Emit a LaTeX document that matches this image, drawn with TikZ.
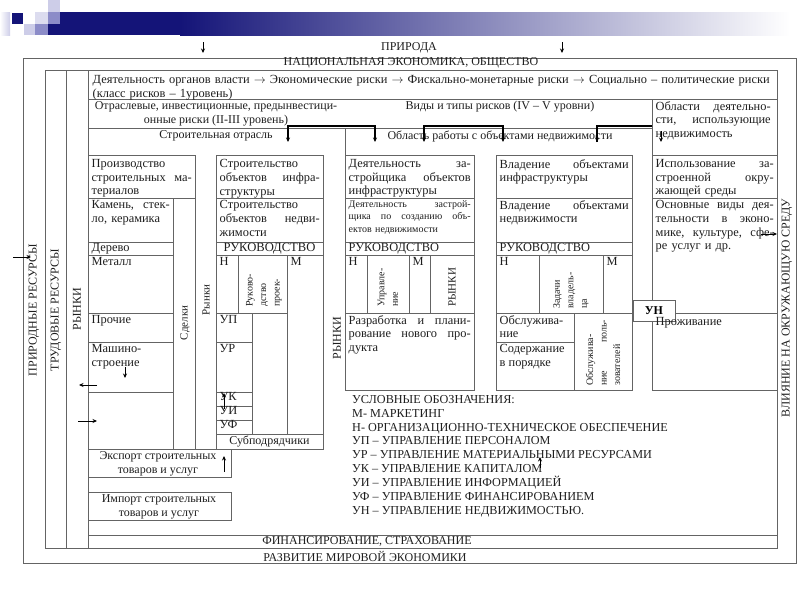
\documentclass[tikz,border=0pt]{standalone}
\usepackage{fontspec}
\setmainfont{Liberation Serif}
\usetikzlibrary{arrows.meta,positioning}
\definecolor{hdnavy}{RGB}{20,20,120}
\definecolor{hdlav}{RGB}{205,205,232}
\definecolor{hdmid}{RGB}{140,140,200}
\definecolor{linegray}{RGB}{100,100,100}
\definecolor{inkgray}{RGB}{30,30,30}
\setlength{\parindent}{0pt}
\tolerance=10000
\hyphenpenalty=10000
\newcommand{\jl}[1]{{\spaceskip=0.25em plus 2em minus 0.05em\relax
  \makebox[\hsize][s]{#1}}}
\tikzset{
  tline/.style={draw=linegray, line width=0.9pt},
  txt/.style={anchor=north west, inner xsep=3.5pt, inner ysep=2pt, align=left,
    font=\fontsize{12.4}{13.8}\selectfont, text=inkgray},
  smalltxt/.style={txt, font=\fontsize{10}{12.5}\selectfont},
  ctxt/.style={inner sep=0pt, font=\fontsize{12}{13.8}\selectfont, text=inkgray},
  vtxt/.style={rotate=90, anchor=west, inner sep=0pt, align=left,
    font=\fontsize{10}{13.5}\selectfont, text=inkgray},
  unbox/.style={draw=linegray, line width=0.9pt, fill=white, inner sep=0pt,
    minimum width=42pt, minimum height=21pt,
    font=\bfseries\fontsize{12}{14}\selectfont},
  arr/.style={-{Stealth[length=4.5pt,width=4pt]}, line width=0.8pt, draw=black},
  brk/.style={{Stealth[length=4.5pt,width=4pt]}-{Stealth[length=4.5pt,width=4pt]},
    line width=1.3pt, draw=black}
}

\begin{document}
\begin{tikzpicture}[x=1pt,y=-1pt]
\useasboundingbox (0,0) rectangle (800,600);

%% slide header
\shade[left color=white, right color=hdlav] (0,12) rectangle (10,35);
\fill[hdnavy] (12,13) rectangle (23,24);
\fill[hdlav] (24,24) rectangle (35,35);
\fill[hdlav!70!white] (35,12) rectangle (48,24);
\fill[hdmid] (35,24) rectangle (48,35);
\fill[hdlav] (48,0) rectangle (60,12);
\fill[hdnavy] (48,12) rectangle (180,35);
\fill[hdmid] (48,12) rectangle (60,24);
\shade[left color=hdnavy, right color=white] (180,12) rectangle (790,35);

%% frames
\draw[tline] (23,58) rectangle (796,563);
\draw[tline] (45,70) rectangle (777,548);
\draw[tline] (66,70) -- (66,548) (88,70) -- (88,548);
\draw[tline] (88,99) -- (777,99) (88,128) -- (652,128);
\draw[tline] (652,99) -- (652,155) (345,128) -- (345,155);
\draw[tline] (88,535) -- (777,535);

%% building materials
\draw[tline] (88,155) rectangle (195,198);
\draw[tline] (173,198) -- (173,449) (195,198) -- (195,449);
\foreach \y in {242,255,313,342,392}
  \draw[tline] (88,\y) -- (173,\y);
\draw[tline] (88,449) -- (323,449);

%% construction
\draw[tline] (216,155) rectangle (323,449);
\foreach \y in {198,242,255,434}
  \draw[tline] (216,\y) -- (323,\y);
\draw[tline] (216,313) -- (287,313);
\draw[tline] (238,255) -- (238,313) (287,255) -- (287,434) (252,313) -- (252,434);
\foreach \y in {342,392,406,420}
  \draw[tline] (216,\y) -- (252,\y);

%% developer
\draw[tline] (345,155) rectangle (474,390);
\foreach \y in {198,242,255,313}
  \draw[tline] (345,\y) -- (474,\y);
\foreach \x in {367,409,430}
  \draw[tline] (\x,255) -- (\x,313);

%% ownership
\draw[tline] (496,155) rectangle (632,390);
\foreach \y in {198,242,255,313}
  \draw[tline] (496,\y) -- (632,\y);
\draw[tline] (539,255) -- (539,313) (603,255) -- (603,313);
\draw[tline] (574,313) -- (574,390) (496,342) -- (574,342);

%% usage
\draw[tline] (652,155) rectangle (777,390);
\draw[tline] (652,198) -- (777,198) (652,313) -- (777,313);

%% export / import
\draw[tline] (88,449) rectangle (231,477) (88,492) rectangle (231,520);

%% outer texts
\node[ctxt] (nature)  at (409,48) {ПРИРОДА};
\node[ctxt] (economy) at (411,63) {НАЦИОНАЛЬНАЯ ЭКОНОМИКА, ОБЩЕСТВО};
\node[ctxt] (finance) at (367,541) {ФИНАНСИРОВАНИЕ, СТРАХОВАНИЕ};
\node[ctxt] (world)   at (365,556) {РАЗВИТИЕ МИРОВОЙ ЭКОНОМИКИ};
\node[ctxt, rotate=90] (natres) at (34,310) {ПРИРОДНЫЕ РЕСУРСЫ};
\node[ctxt, rotate=90] (labres) at (56,310) {ТРУДОВЫЕ РЕСУРСЫ};
\node[ctxt, rotate=90] (mkt0)   at (77,309) {РЫНКИ};
\node[ctxt, rotate=90] (impact) at (787,308) {ВЛИЯНИЕ НА ОКРУЖАЮЩУЮ СРЕДУ};

%% risk levels
\node[txt, text width=677pt] (lvl1) at (89,73)
  {\jl{Деятельность органов власти $\rightarrow$ Экономические риски $\rightarrow$ Фискально-монетарные риски $\rightarrow$ Социально – политические риски}\\(класс рисков – 1уровень)};
\node[ctxt, align=center] (lvl23) at (216,114)
  {Отраслевые, инвестиционные, предынвестици-\\онные риски (II-III уровень)};
\node[ctxt] (lvl45) at (500,107) {Виды и типы рисков (IV – V уровни)};
\node[txt, text width=115pt] (areas) at (652,99)
  {\jl{Области деятельно-}\\\jl{сти, использующие}\\недвижимость};
\node[ctxt] (constr) at (216,136) {Строительная отрасль};
\node[ctxt] (realty) at (500,136) {Область работы с объектами недвижимости};

%% building materials texts
\node[txt, text width=100pt] (prod) at (88,157)
  {Производство\\\jl{строительных ма-}\\териалов};
\node[txt, text width=78pt] (stone) at (88,198) {\jl{Камень, стек-}\\ло, керамика};
\node[txt, inner ysep=1pt] (wood) at (88,242) {Дерево};
\node[txt] (metal) at (88,255) {Металл};
\node[txt] (other) at (88,313) {Прочие};
\node[txt] (mach)  at (88,342) {Машино-\\строение};
\node[ctxt, rotate=90, font=\fontsize{11}{13}\selectfont] (deals) at (185,323) {Сделки};
\node[ctxt, rotate=90, font=\fontsize{11}{13}\selectfont] (mkt1)  at (206,300) {Рынки};

%% construction texts
\node[txt, text width=100pt] (infra) at (216,157)
  {Строительство\\\jl{объектов инфра-}\\структуры};
\node[txt, text width=100pt] (build) at (216,198)
  {Строительство\\\jl{объектов недви-}\\жимости};
\node[ctxt, font=\fontsize{12.6}{14}\selectfont] (mgmt1) at (269.5,248.5) {РУКОВОДСТВО};
\node[txt] (n1) at (216,255) {Н};
\node[vtxt] (projm) at (264,307) {Руково-\\дство\\проек-};
\node[txt] (m1) at (287,255) {М};
\node[txt] (up) at (216,313) {УП};
\node[txt] (ur) at (216,342) {УР};
\node[txt, inner ysep=0.5pt] (uk) at (216,392) {УК};
\node[txt, inner ysep=0.5pt] (ui) at (216,406) {УИ};
\node[txt, inner ysep=0.5pt] (uf) at (216,420) {УФ};
\node[ctxt] (subc) at (269.5,441.5) {Субподрядчики};

%% developer texts
\node[txt, text width=122pt] (devinf) at (345,157)
  {\jl{Деятельность за-}\\\jl{стройщика объектов}\\инфраструктуры};
\node[smalltxt, text width=122pt] (devrl) at (345,198)
  {\jl{Деятельность застрой-}\\\jl{щика по созданию объ-}\\ектов недвижимости};
\node[txt, inner ysep=1pt] (mgmt2) at (345,242) {РУКОВОДСТВО};
\node[txt] (n2) at (345,255) {Н};
\node[vtxt] (mng) at (388,307) {Управле-\\ние};
\node[txt] (m2) at (409,255) {М};
\node[vtxt, font=\fontsize{11}{13}\selectfont] (mkt3) at (452,307) {РЫНКИ};
\node[txt, text width=122pt] (newprod) at (345,313)
  {\jl{Разработка и плани-}\\\jl{рование нового про-}\\дукта};
\node[ctxt, rotate=90] (mkt2) at (337,338) {РЫНКИ};

%% ownership texts
\node[txt, text width=129pt] (owninf) at (496,157) {\jl{Владение объектами}\\инфраструктуры};
\node[txt, text width=129pt] (ownrl)  at (496,198) {\jl{Владение объектами}\\недвижимости};
\node[txt, inner ysep=1pt] (mgmt3) at (496,242) {РУКОВОДСТВО};
\node[txt] (n3) at (496,255) {Н};
\node[vtxt] (owner) at (571,309) {Задачи\\владель-\\ца};
\node[txt] (m3) at (603,255) {М};
\node[txt] (serv)   at (496,313) {Обслужива-\\ние};
\node[txt] (upkeep) at (496,342) {Содержание\\в порядке};
\node[vtxt, text width=66pt] (userv) at (603,386) {Обслужива-\\\jl{ние поль-}\\зователей};

%% usage texts
\node[txt, text width=118pt] (use) at (652,157)
  {\jl{Использование за-}\\\jl{строенной окру-}\\жающей среды};
\node[txt, text width=118pt] (kinds) at (652,198)
  {\jl{Основные виды дея-}\\\jl{тельности в эконо-}\\\jl{мике, культуре, сфе-}\\ре услуг и др.};
\node[unbox] (un) at (654,310.5) {УН};
\node[txt] (live) at (652,315) {Проживание};

%% export / import texts
\node[ctxt, align=center] (exp) at (158,464) {Экспорт строительных\\товаров и услуг};
\node[ctxt, align=center] (imp) at (159,507) {Импорт строительных\\товаров и услуг};

%% legend
\node[txt, inner sep=0pt, font=\fontsize{12.2}{13.9}\selectfont] (legend) at (352,395)
  {УСЛОВНЫЕ ОБОЗНАЧЕНИЯ:\\
   М- МАРКЕТИНГ\\
   Н- ОРГАНИЗАЦИОННО-ТЕХНИЧЕСКОЕ ОБЕСПЕЧЕНИЕ\\
   УП – УПРАВЛЕНИЕ ПЕРСОНАЛОМ\\
   УР – УПРАВЛЕНИЕ МАТЕРИАЛЬНЫМИ РЕСУРСАМИ\\
   УК – УПРАВЛЕНИЕ КАПИТАЛОМ\\
   УИ – УПРАВЛЕНИЕ ИНФОРМАЦИЕЙ\\
   УФ – УПРАВЛЕНИЕ ФИНАНСИРОВАНИЕМ\\
   УН – УПРАВЛЕНИЕ НЕДВИЖИМОСТЬЮ.};

%% arrows
\coordinate (topa1) at (203,42);  \coordinate (topa2) at (203,53);
\coordinate (topb1) at (562,42);  \coordinate (topb2) at (562,53);
\coordinate (br1a) at (288,142);  \coordinate (br1b) at (375,142);
\coordinate (br2a) at (424,142);  \coordinate (br2b) at (503,142);
\coordinate (br3a) at (597,142);  \coordinate (br3b) at (652,126);
\coordinate (ar1) at (661,131);   \coordinate (ar2) at (661,142);
\coordinate (nat1) at (13,257);   \coordinate (nat2) at (31,257);
\coordinate (out1) at (97,385);   \coordinate (out2) at (79,385);
\coordinate (in1) at (78,421);    \coordinate (in2) at (97,421);
\coordinate (mc1) at (125,367);   \coordinate (mc2) at (125,378);
\coordinate (uk1) at (224,409);   \coordinate (uk2) at (224,393);
\coordinate (ex1) at (224,472);   \coordinate (ex2) at (224,456);
\coordinate (lg1) at (540,468);   \coordinate (lg2) at (540,457);
\coordinate (sf1) at (761,234);   \coordinate (sf2) at (777,234);

\draw[arr] (topa1) -- (topa2);
\draw[arr] (topb1) -- (topb2);
\draw[brk] (br1a) -- ++(0,-16) -| (br1b);
\draw[brk] (br2a) -- ++(0,-16) -| (br2b);
\draw[brk, -] (br3a) -- ++(0,-16) -- (br3b);
\draw[arr] (br3a) ++(0,-8) -- (br3a);
\draw[arr] (ar1) -- (ar2);
\draw[arr] (nat1) -- (nat2);
\draw[arr] (out1) -- (out2);
\draw[arr] (in1) -- (in2);
\draw[arr] (mc1) -- (mc2);
\draw[arr] (uk1) -- (uk2);
\draw[arr] (ex1) -- (ex2);
\draw[arr] (lg1) -- (lg2);
\draw[arr] (sf1) -- (sf2);

\end{tikzpicture}
\end{document}
